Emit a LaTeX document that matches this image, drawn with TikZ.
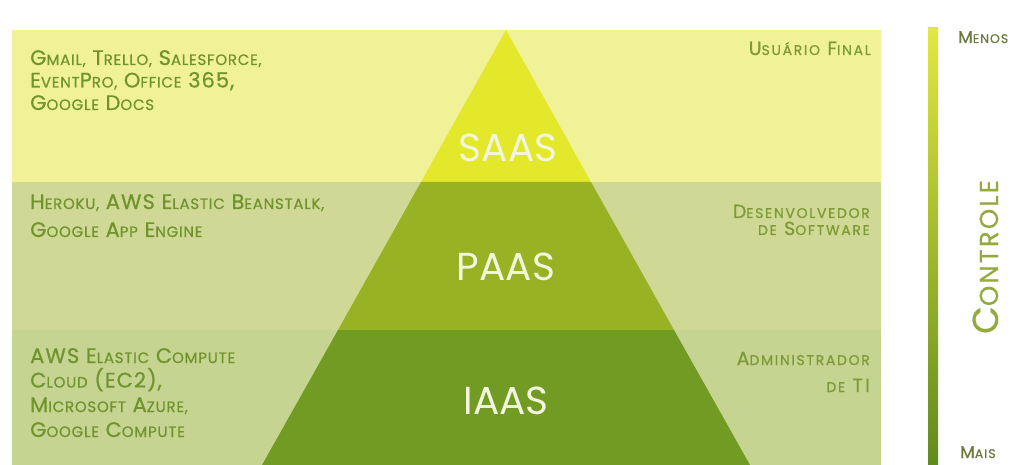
\documentclass[tikz,border=0pt]{standalone}
\usepackage{fontspec}
\setmainfont{Poppins}
% slightly heavier, tracked faces for the small-cap labels
\newfontfamily\leftface{Poppins}[FakeBold=0.7, LetterSpace=5]
\newfontfamily\rightface{Poppins}[FakeBold=0.7, LetterSpace=12]
\newfontfamily\scaleface{Poppins}[FakeBold=0.5, LetterSpace=8]

% band and pyramid colours
\definecolor{bandSaas}{RGB}{241,242,152}
\definecolor{bandPaas}{RGB}{208,216,150}
\definecolor{bandIaas}{RGB}{198,212,146}
\definecolor{triSaas}{RGB}{228,232,42}
\definecolor{triPaas}{RGB}{152,178,36}
\definecolor{triIaas}{RGB}{114,155,36}
\definecolor{txtGreen}{RGB}{112,148,44}
\definecolor{txtRight}{RGB}{126,154,54}
\definecolor{txtGrey}{RGB}{108,122,62}
\definecolor{txtLight}{RGB}{146,170,62}
\definecolor{pyrText}{RGB}{242,246,222}
\definecolor{barTop}{RGB}{226,232,64}
\definecolor{barBot}{RGB}{98,138,30}

% fake small capitals: the argument is set at the reduced size \scsz
\newcommand\Sc[1]{{\fontsize{\scsz}{\scsz}\selectfont #1}}

\tikzset{
  lefttxt/.style={anchor=base west, inner sep=0pt, text=txtGreen,
    font={\leftface\fontsize{21}{21}\selectfont\def\scsz{15}}},
  righttxt/.style={anchor=base east, inner sep=0pt, text=txtRight,
    font={\rightface\fontsize{19}{19}\selectfont\def\scsz{14}}},
  scaletxt/.style={anchor=base west, inner sep=0pt, text=txtGrey,
    font={\scaleface\fontsize{17}{17}\selectfont\def\scsz{12.5}}},
  layer/.style={inner sep=0pt, text=pyrText,
    font={\fontsize{39}{39}\selectfont}},
}

\begin{document}
\begin{tikzpicture}[x=1pt,y=-1pt]
\useasboundingbox (0,0) rectangle (1026,465);
\fill[white] (0,0) rectangle (1026,465);

% horizontal bands
\fill[bandSaas] (12,30) rectangle (881,182);
\fill[bandPaas] (12,182) rectangle (881,330);
\fill[bandIaas] (12,330) rectangle (881,465);

% pyramid, one slice per layer
\fill[triSaas] (506,30) -- (591,182) -- (421,182) -- cycle;
\fill[triPaas] (421,182) -- (591,182) -- (674,330) -- (338,330) -- cycle;
\fill[triIaas] (338,330) -- (674,330) -- (750,465) -- (262,465) -- cycle;

\node[layer] (saas) at (508,148) {SAAS};
\node[layer] (paas) at (506,267) {PAAS};
\node[layer] (iaas) at (506,401) {IAAS};

% examples, left column
\node[lefttxt] (s1) at (30,65) {G\Sc{MAIL,} T\Sc{RELLO,} S\Sc{ALESFORCE,}};
\node[lefttxt] (s2) at (30,87.5) {E\Sc{VENT}P\Sc{RO,} O\Sc{FFICE} 365,};
\node[lefttxt] (s3) at (30,110) {G\Sc{OOGLE} D\Sc{OCS}};

\node[lefttxt] (p1) at (30,209) {H\Sc{EROKU,} AWS E\Sc{LASTIC} B\Sc{EANSTALK,}};
\node[lefttxt] (p2) at (30,237) {G\Sc{OOGLE} A\Sc{PP} E\Sc{NGINE}};

\node[lefttxt] (i1) at (30,363) {AWS E\Sc{LASTIC} C\Sc{OMPUTE}};
\node[lefttxt] (i2) at (30,387.5) {C\Sc{LOUD} (EC2),};
\node[lefttxt] (i3) at (30,412) {M\Sc{ICROSOFT} A\Sc{ZURE,}};
\node[lefttxt] (i4) at (30,437) {G\Sc{OOGLE} C\Sc{OMPUTE}};

% users, right column
\node[righttxt] (u1) at (871,55) {U\Sc{SUÁRIO} F\Sc{INAL}};
\node[righttxt] (d1) at (870,218) {D\Sc{ESENVOLVEDOR}};
\node[righttxt] (d2) at (870,235) {\Sc{DE} S\Sc{OFTWARE}};
\node[righttxt] (a1) at (870,365) {A\Sc{DMINISTRADOR}};
\node[righttxt] (a2) at (870,392) {\Sc{DE} TI};

% control scale
\shade[top color=barTop, bottom color=barBot] (928,28) rectangle (938,465);
\node[scaletxt] (menos) at (958,43) {M\Sc{ENOS}};
\node[scaletxt] (mais) at (960,458) {M\Sc{AIS}};
\node[anchor=base, rotate=90, inner sep=0pt, text=txtLight,
  font={\scaleface\fontsize{36}{36}\selectfont\def\scsz{26}}] (ctrl) at (998,257) {C\Sc{ONTROLE}};
\end{tikzpicture}
\end{document}
